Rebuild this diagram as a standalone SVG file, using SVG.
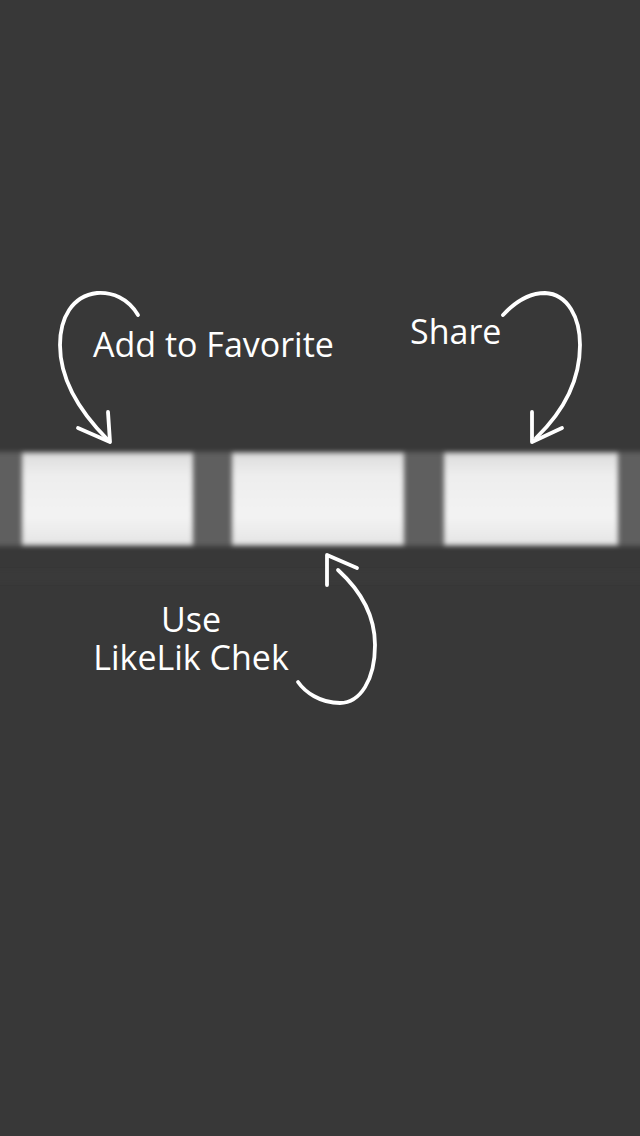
<svg xmlns="http://www.w3.org/2000/svg" width="640" height="1136" viewBox="0 0 640 1136">
<defs>
<style>
.lbl{font-family:"Open Sans","Noto Sans",sans-serif;font-size:34px;fill:#ffffff}
.arr{fill:none;stroke:#ffffff;stroke-width:3.8;stroke-linecap:round;stroke-linejoin:round}
</style>
<linearGradient id="boxg" x1="0" y1="0" x2="0" y2="1">
<stop offset="0" stop-color="#dcdcdc"/>
<stop offset="0.25" stop-color="#eeeeee"/>
<stop offset="0.7" stop-color="#f3f3f3"/>
<stop offset="1" stop-color="#e4e4e4"/>
</linearGradient>
<filter id="blur" x="-10%" y="-10%" width="120%" height="120%">
<feGaussianBlur stdDeviation="2.6"/>
</filter>
</defs>
<rect x="0" y="0" width="640" height="1136" fill="#383838"/>
<g id="band" filter="url(#blur)">
<rect x="-40" y="452" width="720" height="94" fill="#5f5f5f"/>
<rect x="-40" y="572" width="720" height="9" fill="#3a3a3a"/>
</g>
<g id="btn-favorite" filter="url(#blur)">
<rect x="22" y="453" width="171" height="92" fill="url(#boxg)"/>
</g>
<g id="btn-likelik" filter="url(#blur)">
<rect x="232" y="453" width="172" height="92" fill="url(#boxg)"/>
</g>
<g id="btn-share" filter="url(#blur)">
<rect x="444" y="453" width="174" height="92" fill="url(#boxg)"/>
</g>
<g id="labels">
<text class="lbl" x="93" y="357">Add to Favorite</text>
<text class="lbl" x="410" y="344">Share</text>
<text class="lbl" x="191" y="632" text-anchor="middle">Use</text>
<text class="lbl" x="191" y="670" text-anchor="middle">LikeLik Chek</text>
</g>
<g id="connectors">
<path class="arr" d="M138,315 C128,298 112,292 97,293 C72,296 60,318 60,345 C60,378 78,410 108,440"/>
<path class="arr" d="M78,428 L110,442 L108,412"/>
<path class="arr" d="M503,315 C515,302 530,293 545,293 C568,294 580,318 580,345 C580,378 565,410 536,438"/>
<path class="arr" d="M532,412 L532,442 L562,428"/>
<path class="arr" d="M338,570 C360,590 375,615 375,645 C375,680 360,703 340,703 C320,703 305,692 298,682"/>
<path class="arr" d="M327,585 L327,555 L357,568"/>
</g>
</svg>
